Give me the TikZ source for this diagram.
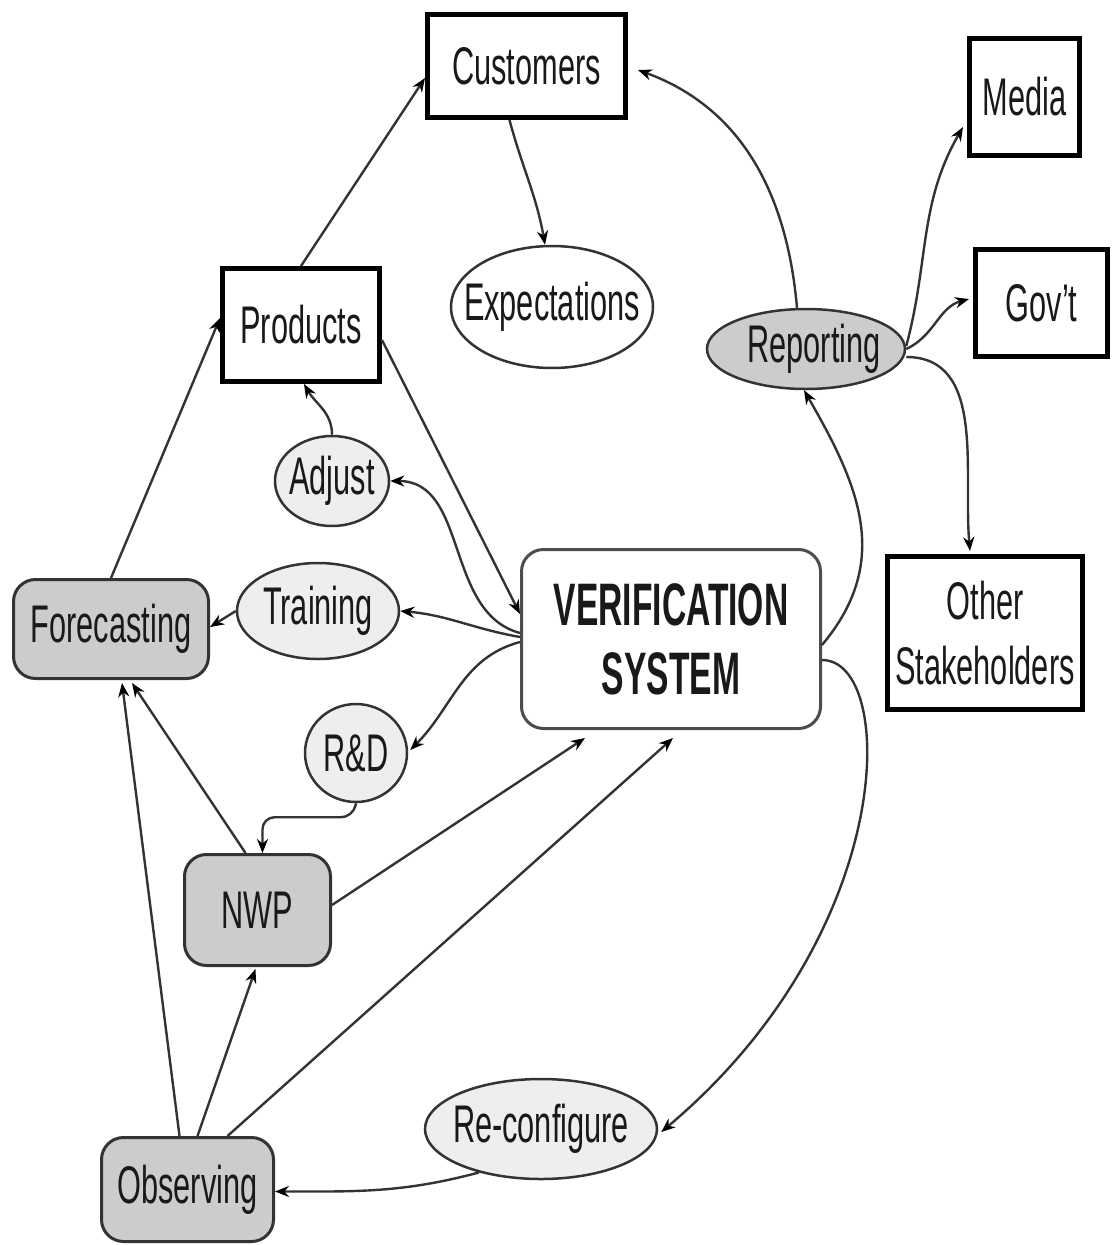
\documentclass[tikz,border=0pt]{standalone}
\usepackage{fontspec}
\setmainfont[FakeStretch=0.58]{Liberation Sans}
\newfontfamily\vsfont[FakeStretch=0.56]{Liberation Sans}
\usetikzlibrary{arrows.meta,shapes.geometric,calc}
\definecolor{darkfill}{HTML}{CCCCCC}
\definecolor{lightfill}{HTML}{EEEEEE}
\definecolor{linegray}{HTML}{333333}
\begin{document}
\begin{tikzpicture}[x=1pt,y=1pt,
  lbl/.style={font=\fontsize{53pt}{65pt}\selectfont, text=black!90, inner sep=0pt, align=center},
  sqbox/.style={lbl, rectangle, draw=black, line width=5pt, fill=white},
  rbox/.style={lbl, rectangle, rounded corners=22pt, draw=linegray, line width=3pt},
  ellnode/.style={ellipse, draw=linegray, line width=2.5pt, inner sep=0pt},
  conn/.style={draw=linegray, line width=2.4pt, -{Stealth[length=14pt,width=11pt,black]}}]
\useasboundingbox (0,0) rectangle (1112,-1245);

% rectangles
\node[sqbox, minimum width=198pt, minimum height=103pt] (cust) at (526.5,-66) {Customers};
\node[sqbox, minimum width=110pt, minimum height=117pt] (media) at (1024.5,-97) {Media};
\node[sqbox, minimum width=132pt, minimum height=107pt] (gov) at (1041.5,-303) {Gov't};
\node[sqbox, minimum width=157pt, minimum height=113pt] (prod) at (301,-325) {Products};
\node[sqbox, minimum width=195pt, minimum height=153pt] (other) at (985,-633) {Other\\Stakeholders};

% ellipses
\node[ellnode, fill=white, minimum width=202pt, minimum height=122pt, label={[lbl]center:Expectations}] (exp) at (552,-307) {};
\node[ellnode, fill=darkfill, minimum width=198pt, minimum height=80pt, label={[lbl,xshift=8pt]center:Reporting}] (rep) at (806,-349) {};
\node[ellnode, fill=lightfill, minimum width=114pt, minimum height=90pt, label={[lbl]center:Adjust}] (adj) at (332,-481) {};
\node[ellnode, fill=lightfill, minimum width=162pt, minimum height=96pt, label={[lbl]center:Training}] (train) at (318,-611) {};
\node[ellnode, fill=lightfill, minimum width=102pt, minimum height=98pt, label={[lbl]center:R\&D}] (rnd) at (356,-753) {};
\node[ellnode, fill=lightfill, minimum width=232pt, minimum height=100pt, label={[lbl]center:Re-configure}] (reconf) at (541,-1129) {};

% rounded boxes
\node[rbox, fill=darkfill, minimum width=195pt, minimum height=99pt] (fore) at (111,-629) {Forecasting};
\node[rbox, fill=white, draw=black!70, minimum width=299pt, minimum height=179pt, font=\vsfont\bfseries\fontsize{60pt}{69pt}\selectfont] (vs) at (671,-639) {VERIFICATION\\SYSTEM};
\node[rbox, fill=darkfill, minimum width=146pt, minimum height=111pt] (nwp) at (257.5,-910) {NWP};
\node[rbox, fill=darkfill, minimum width=172pt, minimum height=104pt] (obs) at (187.5,-1189.5) {Observing};

% connectors
\draw[conn] (fore.north) -- ([yshift=7pt]prod.west);
\draw[conn] (prod.north) -- ([yshift=-12pt]cust.west);
\draw[conn] ([xshift=-17pt]cust.south) to[out=-75,in=100] ([xshift=-7pt]exp.north);
\draw[conn] ([xshift=-9pt]rep.north) to[out=95,in=-20] ([xshift=10pt,yshift=-4pt]cust.east);
\draw[conn] ([yshift=3pt]rep.east) to[out=75,in=-120] ([xshift=-4pt,yshift=-30pt]media.west);
\draw[conn] (rep.east) to[out=25,in=195] ([xshift=-4pt,yshift=4pt]gov.west);
\draw[conn] ([yshift=-8pt]rep.east) to[out=0,in=95] ([xshift=-15pt,yshift=3pt]other.north);
\draw[conn] ([yshift=-6pt]vs.east) to[out=50,in=-60,looseness=1.1] ([xshift=-2pt]rep.south);
\draw[conn] ([yshift=-15pt]prod.east) -- ([yshift=25pt]vs.west);
\draw[conn] ([yshift=6pt]vs.west) to[out=165,in=0] (adj.east);
\draw[conn] (adj.north) to[out=90,in=-60] ([xshift=3pt]prod.south);
\draw[conn] ([yshift=2pt]vs.west) to[out=170,in=-5] (train.east);
\draw[conn] (train.west) -- ([yshift=2pt]fore.east);
\draw[conn] ([yshift=-3pt]vs.west) to[out=195,in=45] ([xshift=2pt,yshift=3pt]rnd.east);
\draw[conn, rounded corners=12pt] (rnd.south) -- ++(-3,-14) -| ([xshift=5pt]nwp.north);
\draw[conn] ([xshift=-12pt]nwp.north) -- ([xshift=21pt,yshift=-3pt]fore.south);
\draw[conn] ([xshift=-8pt]obs.north) -- ([xshift=11pt,yshift=-3pt]fore.south);
\draw[conn] ([xshift=10pt]obs.north) -- ([xshift=-2pt,yshift=-2pt]nwp.south);
\draw[conn] ([xshift=40pt]obs.north) -- ([xshift=2pt,yshift=-8pt]vs.south);
\draw[conn] ([yshift=5pt]nwp.east) -- ([xshift=-86pt,yshift=-8pt]vs.south);
\draw[conn] ([yshift=-21pt]vs.east) .. controls +(75,0) and +(238,200) .. ([xshift=3pt,yshift=-3pt]reconf.east);
\draw[conn] (reconf.215) to[out=195,in=0] ([yshift=-2pt]obs.east);
\end{tikzpicture}
\end{document}
